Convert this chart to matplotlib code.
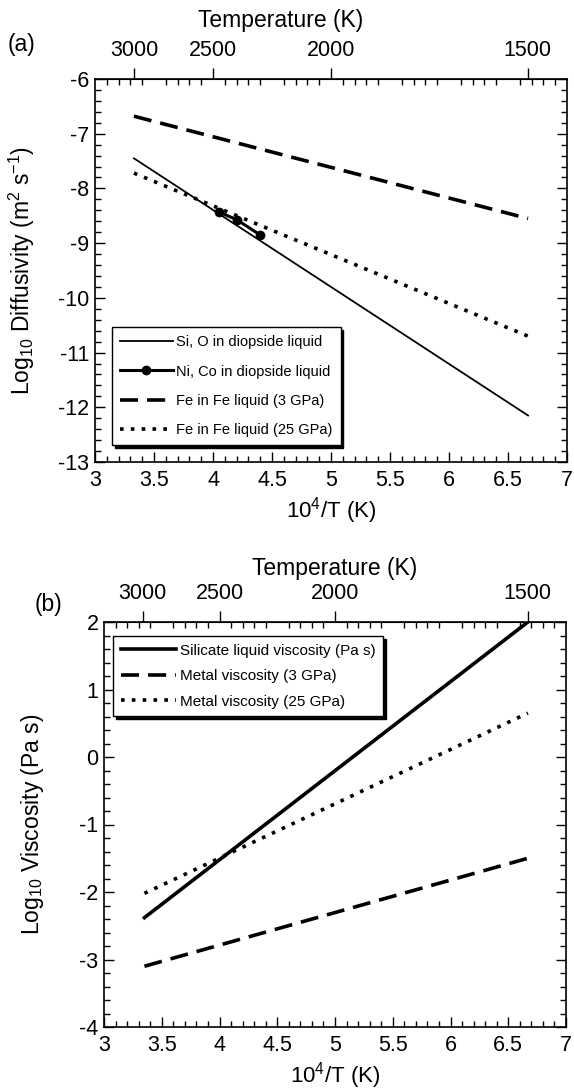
import matplotlib
matplotlib.use("Agg")
import matplotlib.pyplot as plt
import numpy as np
from matplotlib.ticker import MultipleLocator

plt.rcParams['font.family'] = ['Liberation Sans', 'DejaVu Sans']
plt.rcParams['axes.unicode_minus'] = False
plt.rcParams['mathtext.fontset'] = 'custom'
plt.rcParams['mathtext.rm'] = 'Liberation Sans'
plt.rcParams['mathtext.it'] = 'Liberation Sans:italic'
plt.rcParams['mathtext.bf'] = 'Liberation Sans:bold'

# ---- data panel (a) ----
x_sio = [3.33, 6.67]
y_sio = [-7.45, -12.15]
x_nico = [4.05, 4.2, 4.4]
y_nico = [-8.43, -8.57, -8.85]
x_fe3 = [3.33, 6.67]
y_fe3 = [-6.68, -8.55]
x_fe25 = [3.33, 6.67]
y_fe25 = [-7.72, -10.7]

# ---- data panel (b) ----
x_sil = [3.35, 6.67]
y_sil = [-2.38, 2.0]
x_m3 = [3.35, 6.67]
y_m3 = [-3.1, -1.5]
x_m25 = [3.35, 6.67]
y_m25 = [-2.02, 0.65]

temp_ticks = [3000, 2500, 2000, 1500]

W, H = 574, 1090
fig = plt.figure(figsize=(W/100, H/100), dpi=100)

def px_axes(l, r, t, b):
    return fig.add_axes([l/W, (H-b)/H, (r-l)/W, (b-t)/H])

FS = 15.5

def style(ax, ylo, yhi, title_x, title_pad):
    ax.set_xlim(3, 7)
    ax.set_ylim(ylo, yhi)
    ax.xaxis.set_major_locator(MultipleLocator(0.5))
    ax.xaxis.set_minor_locator(MultipleLocator(0.1))
    ax.yaxis.set_major_locator(MultipleLocator(1))
    ax.yaxis.set_minor_locator(MultipleLocator(0.2))
    ax.xaxis.set_major_formatter(plt.FuncFormatter(lambda v, p: f"{v:g}"))
    ax.tick_params(which='both', direction='in', right=True, top=False, labelsize=FS, width=1)
    ax.tick_params(axis='x', which='minor', top=True)
    ax.tick_params(which='major', length=7)
    ax.tick_params(which='minor', length=4)
    ax.tick_params(axis='x', which='major', pad=6)
    ax.tick_params(axis='y', which='major', pad=4)
    for s in ax.spines.values():
        s.set_linewidth(1.2)
    ax.set_xlabel(r"10$^4$/T (K)", fontsize=16, labelpad=3)
    sec = ax.secondary_xaxis('top', functions=(lambda x: 1e4/np.asarray(x, float), lambda t: 1e4/np.asarray(t, float)))
    sec.set_xticks(temp_ticks)
    sec.set_xticklabels([str(t) for t in temp_ticks])
    sec.tick_params(which='major', direction='out', length=8, labelsize=FS, width=1, pad=5)
    sec.tick_params(which='minor', length=0)
    sec.set_xlabel("Temperature (K)", fontsize=16.5, labelpad=title_pad)
    sec.xaxis.label.set_x(title_x)
    return sec

shadow = {'color': 'black', 'alpha': 1.0}

# ---- panel (a) ----
ax1 = px_axes(95, 567, 79, 462)
ax1.plot(x_sio, y_sio, color='black', lw=1.3, label='Si, O in diopside liquid')
ax1.plot(x_nico, y_nico, color='black', lw=2.2, marker='o', ms=6, label='Ni, Co in diopside liquid')
ax1.plot(x_fe3, y_fe3, color='black', lw=2.6, ls=(0, (5, 2.5)), label='Fe in Fe liquid (3 GPa)')
ax1.plot(x_fe25, y_fe25, color='black', lw=2.6, ls=(0, (1, 2)), label='Fe in Fe liquid (25 GPa)')
style(ax1, -13, -6, 0.394, 9)
ax1.set_ylabel(r"Log$_{10}$ Diffusivity (m$^2$ s$^{-1}$)", fontsize=16.5, labelpad=15)
leg1 = ax1.legend(loc='lower left', bbox_to_anchor=(0.036, 0.044), fontsize=10.5, fancybox=False,
                  edgecolor='black', framealpha=1, shadow=shadow, handlelength=3.6,
                  labelspacing=1.05, borderpad=0.55, handletextpad=0.25, borderaxespad=0)
leg1.get_frame().set_linewidth(1.0)
fig.text(8/W, 1 - 45/H, "(a)", fontsize=16.5, va='center', ha='left')

# ---- panel (b) ----
ax2 = px_axes(104, 566, 622, 1027)
ax2.plot(x_sil, y_sil, color='black', lw=2.6, label='Silicate liquid viscosity (Pa s)')
ax2.plot(x_m3, y_m3, color='black', lw=2.6, ls=(0, (5, 2.5)), label='Metal viscosity (3 GPa)')
ax2.plot(x_m25, y_m25, color='black', lw=2.6, ls=(0, (1, 2)), label='Metal viscosity (25 GPa)')
style(ax2, -4, 2, 0.5, 6)
ax2.set_ylabel(r"Log$_{10}$ Viscosity (Pa s)", fontsize=16.5, labelpad=24)
leg2 = ax2.legend(loc='upper left', bbox_to_anchor=(0.02, 0.965), fontsize=11, fancybox=False,
                  edgecolor='black', framealpha=1, shadow=shadow, handlelength=3.6,
                  labelspacing=0.75, borderpad=0.5, handletextpad=0.25, borderaxespad=0)
leg2.get_frame().set_linewidth(1.0)
fig.text(35/W, 1 - 604/H, "(b)", fontsize=16.5, va='center', ha='left')

fig.savefig("out.png", dpi=100)
